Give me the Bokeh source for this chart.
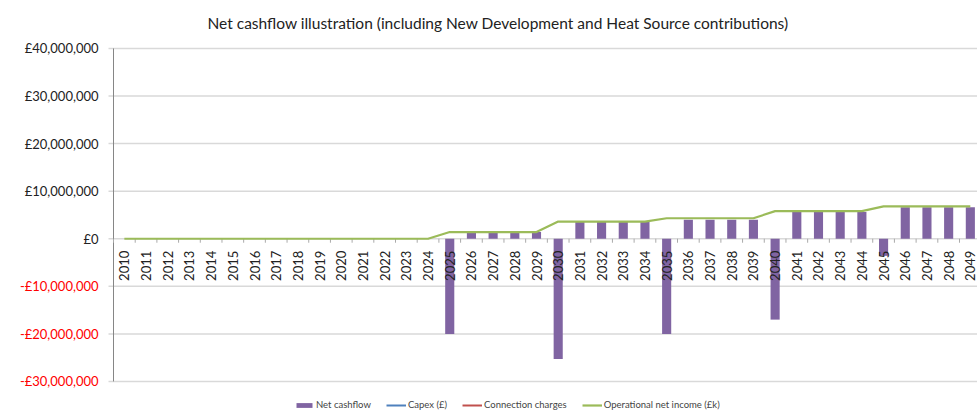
import numpy as np
from bokeh.plotting import figure
from bokeh.models import ColumnDataSource, Range1d, Legend, LegendItem
from bokeh.core.properties import value
from bokeh.embed import file_html
from bokeh.resources import INLINE

years = ["2010", "2011", "2012", "2013", "2014", "2015", "2016", "2017", "2018", "2019",
         "2020", "2021", "2022", "2023", "2024", "2025", "2026", "2027", "2028", "2029",
         "2030", "2031", "2032", "2033", "2034", "2035", "2036", "2037", "2038", "2039",
         "2040", "2041", "2042", "2043", "2044", "2045", "2046", "2047", "2048", "2049"]

net_cashflow = [0, 0, 0, 0, 0, 0, 0, 0, 0, 0,
                0, 0, 0, 0, 0, -20.0e6, 1.4e6, 1.4e6, 1.4e6, 1.4e6,
                -25.3e6, 3.5e6, 3.5e6, 3.5e6, 3.5e6, -20.0e6, 4.0e6, 4.0e6, 4.0e6, 4.0e6,
                -17.0e6, 5.6e6, 5.6e6, 5.6e6, 5.6e6, -3.6e6, 6.6e6, 6.6e6, 6.6e6, 6.6e6]

operational_income = [0, 0, 0, 0, 0, 0, 0, 0, 0, 0,
                      0, 0, 0, 0, 0, 1.4e6, 1.4e6, 1.4e6, 1.4e6, 1.4e6,
                      3.6e6, 3.6e6, 3.6e6, 3.6e6, 3.6e6, 4.3e6, 4.3e6, 4.3e6, 4.3e6, 4.3e6,
                      5.8e6, 5.8e6, 5.8e6, 5.8e6, 5.8e6, 6.8e6, 6.8e6, 6.8e6, 6.8e6, 6.8e6]

# no visible values in the reference for these two series
capex = [float("nan")] * 40
connection_charges = [float("nan")] * 40

y_ticks = [-30e6, -20e6, -10e6, 0, 10e6, 20e6, 30e6, 40e6]
y_tick_labels = ["-£30,000,000", "-£20,000,000", "-£10,000,000", "£0",
                 "£10,000,000", "£20,000,000", "£30,000,000", "£40,000,000"]

FONT = "Lato"
idx = list(range(len(years)))
x_left = idx[0] - 0.5          # left edge of the category axis
X_END = 39.33

p = figure(width=977, height=410, x_range=Range1d(-5.71, X_END), y_range=Range1d(-36.1e6, 42.5e6),
           output_backend="svg", toolbar_location=None, x_axis_type=None, y_axis_type=None,
           min_border_left=0, min_border_right=0, min_border_top=36, min_border_bottom=0)
p.outline_line_color = None
p.background_fill_color = "white"

p.title.text = "Net cashflow illustration (including New Development and Heat Source contributions)"
p.title.align = "left"
p.title.offset = 207
p.title.text_font = FONT
p.title.text_font_size = "15.5px"
p.title.text_font_style = "normal"
p.title.text_color = "#222222"

# value axis: gridlines, tick marks, axis line
xl = [x_left] * len(y_ticks)
p.segment(x0=xl, y0=y_ticks, x1=[X_END] * len(y_ticks), y1=y_ticks,
          line_color="#d9d9d9", line_width=1.5)
p.ray(x=xl, y=y_ticks, length=5, length_units="screen", angle=np.pi,
      line_color="#d9d9d9", line_width=1.5)
p.segment(x0=[x_left], y0=[y_ticks[0]], x1=[x_left], y1=[y_ticks[-1]],
          line_color="#868686", line_width=1)

# category tick marks along the zero line
bounds = [i - 0.5 for i in idx]
p.ray(x=bounds, y=[0] * len(bounds), length=4, length_units="screen", angle=-np.pi / 2,
      line_color="#aaaaaa", line_width=1)

bars = p.vbar(x=idx, top=net_cashflow, bottom=0, width=0.42, fill_color="#8064A2", line_color=None)
capex_r = p.line(x=idx, y=capex, line_color="#4F81BD", line_width=2)
conn_r = p.line(x=idx, y=connection_charges, line_color="#C0504D", line_width=2)
oper_r = p.line(x=idx, y=operational_income, line_color="#9BBB59", line_width=2.2)

# category labels at the zero line
p.text(x=idx, y=[0] * len(idx), text=years, angle=np.pi / 2, text_align="right",
       text_baseline="middle", y_offset=12, text_font=value(FONT), text_font_size="13px",
       text_color="#222222")

# value labels (negative values in red)
ysrc = ColumnDataSource(dict(x=xl, y=y_ticks, label=y_tick_labels,
                             color=["#ff0000" if t < 0 else "#222222" for t in y_ticks]))
p.text(x="x", y="y", text="label", source=ysrc, x_offset=-15,
       text_align="right", text_baseline="middle", text_color="color",
       text_font=value(FONT), text_font_size="13px")

legend = Legend(items=[LegendItem(label="Net cashflow", renderers=[bars]),
                       LegendItem(label="Capex (£)", renderers=[capex_r]),
                       LegendItem(label="Connection charges", renderers=[conn_r]),
                       LegendItem(label="Operational net income (£k)", renderers=[oper_r])],
                orientation="horizontal", location=(294, 0), border_line_color=None,
                background_fill_alpha=0, label_text_font_size="9.5px", label_text_font=FONT,
                glyph_width=20, glyph_height=6, label_standoff=2, spacing=15, padding=2,
                margin=0, label_height=10)
p.add_layout(legend)

open("out.html", "w").write(file_html(p, INLINE))
